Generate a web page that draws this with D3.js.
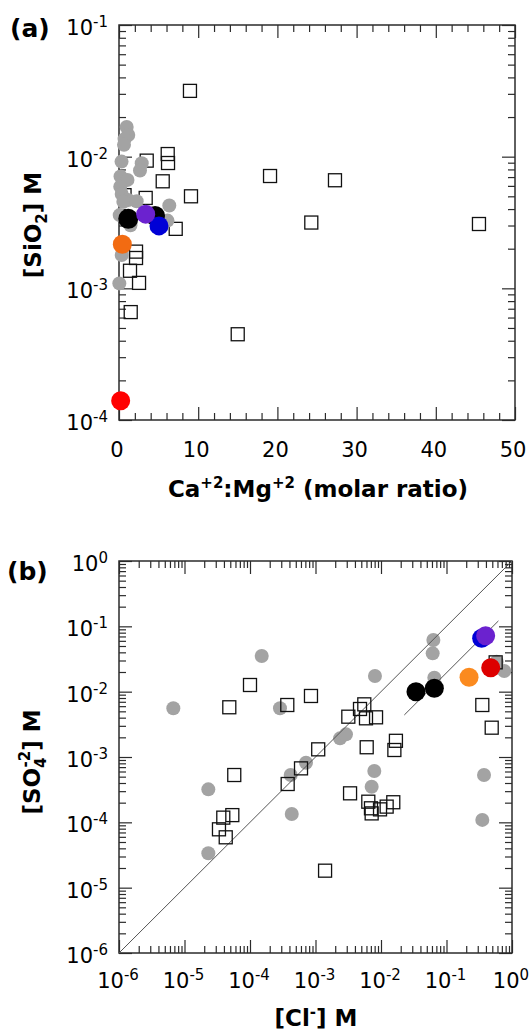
<!DOCTYPE html>
<html>
<head>
<meta charset="utf-8">
<script src="https://cdn.jsdelivr.net/npm/d3@7"></script>
<style>
  body { margin: 0; background: #fff; }
  svg { display: block; font-family: 'DejaVu Sans', sans-serif; }
</style>
</head>
<body>
<svg id="chart" width="530" height="1035"></svg>
<script>
// panel (a): [Ca:Mg molar ratio, SiO2 M]
const squaresA = [
  [8.96, 0.0316], [3.5, 0.00933], [6.15, 0.01047], [6.19, 0.00895], [5.52, 0.0065],
  [3.37, 0.00486], [9.09, 0.005], [19.07, 0.00713], [27.27, 0.00662], [24.28, 0.00316],
  [45.45, 0.00308], [7.16, 0.00283], [2.15, 0.0019], [2.15, 0.0017], [1.39, 0.00136],
  [2.53, 0.0011], [1.48, 0.00066], [14.99, 0.000448], [0.7, 0.0051]
]
const greyA = [
  [0.97, 0.0168], [1.17, 0.0146], [0.7, 0.0136], [0.63, 0.0123], [0.32, 0.00917],
  [2.87, 0.00891], [2.65, 0.00785], [0.19, 0.00708], [1.07, 0.00666], [0.16, 0.00592],
  [0.34, 0.00521], [1.17, 0.00469], [0.55, 0.00455], [2.23, 0.00458], [6.35, 0.00426],
  [0.09, 0.0036], [1.45, 0.00301], [6.12, 0.00327], [0.34, 0.00179], [0.04, 0.00109]
]
const blackA = [[1.17, 0.00337], [4.55, 0.00355]]
const blueA = [[5.05, 0.00298]]
const purpleA = [[3.37, 0.00366]]
const orangeA = [[0.42, 0.00216]]
const redA = [[0.21, 0.00014]]

// panel (b): [Cl M, SO4 M]
const greyB = [
  [6.75e-6, 5.56e-3], [1.51e-4, 0.0351], [2.87e-4, 5.56e-3], [8.09e-3, 0.0174], [2.37e-3, 1.93e-3],
  [2.92e-3, 2.22e-3], [7.16e-4, 8.18e-4], [4.18e-4, 5.3e-4], [7.9e-3, 6.1e-4], [7.2e-3, 3.5e-4],
  [4.34e-4, 1.34e-4], [0.063, 0.0618], [0.0615, 0.0386], [0.0652, 0.0164], [0.583, 0.0288],
  [0.762, 0.0207], [0.374, 5.3e-4], [0.352, 1.09e-4], [2.31e-5, 3.2e-4], [2.31e-5, 3.36e-5]
]
const squaresB = [
  [4.83e-5, 5.77e-3], [1e-4, 0.01265], [8.53e-4, 8.59e-3], [3.71e-4, 6.25e-3], [5.56e-3, 6.4e-3],
  [4.78e-3, 5.43e-3], [3.17e-3, 4.14e-3], [5.9e-3, 3.91e-3], [8.4e-3, 4.05e-3], [1.1e-3, 1.31e-3],
  [6.05e-3, 1.41e-3], [0.0169, 1.77e-3], [0.016, 1.28e-3], [6.01e-4, 6.7e-4], [3.76e-4, 3.86e-4],
  [3.37e-3, 2.78e-4], [6.4e-3, 2.07e-4], [7.03e-3, 1.64e-4], [7.2e-3, 1.37e-4], [9.66e-3, 1.58e-4],
  [0.0122, 1.74e-4], [0.0154, 2.03e-4], [1.4e-3, 1.82e-5], [0.563, 0.0281], [0.352, 6.25e-3],
  [0.49, 2.81e-3], [5.75e-5, 5.3e-4], [5.37e-5, 1.29e-4], [3.91e-5, 1.18e-4], [3.36e-5, 7.82e-5],
  [4.26e-5, 5.9e-5]
]
const blackB = [[0.0342, 0.01], [0.0652, 0.0113]]
const blueB = [[0.344, 0.0656]]
const purpleB = [[0.396, 0.0719]]
const orangeB = [[0.221, 0.0166]]
const redB = [[0.473, 0.0233]]

// reference lines in (b)
const oneToOne = [[1e-6, 1e-6], [1, 1]]
const lowerLine = [[0.0227, 0.0044], [0.62, 0.121]]

// tick labels
const ticksAx = [0, 10, 20, 30, 40, 50]
const expsAy = [-1, -2, -3, -4]
const expsB = [-6, -5, -4, -3, -2, -1, 0]

const svg = d3.select('#chart')
const ink = '#2b2b2b'

const xA = d3.scaleLinear().domain([0, 50]).range([119, 515])
const yA = d3.scaleLog().domain([1e-4, 1e-1]).range([420, 25])
const xB = d3.scaleLog().domain([1e-6, 1]).range([119, 512])
const yB = d3.scaleLog().domain([1e-6, 1]).range([953, 561])

function logMinor(lo, hi) {
  const out = []
  for (let e = lo; e < hi; e++) {
    for (let k = 2; k <= 9; k++) out.push(+(k + 'e' + e))
  }
  return out
}

function tickSet(x, y, xMaj, xMin, yMaj, yMin) {
  const [x0, x1] = x.range()
  const [y0, y1] = y.range()
  const g = svg.append('g')
  const parts = [
    [d3.axisBottom(x), xMaj, 13, `translate(0,${y0})`],
    [d3.axisBottom(x), xMin, 7, `translate(0,${y0})`],
    [d3.axisTop(x), xMaj, 13, `translate(0,${y1})`],
    [d3.axisTop(x), xMin, 7, `translate(0,${y1})`],
    [d3.axisLeft(y), yMaj, 13, `translate(${x0},0)`],
    [d3.axisLeft(y), yMin, 7, `translate(${x0},0)`],
    [d3.axisRight(y), yMaj, 13, `translate(${x1},0)`],
    [d3.axisRight(y), yMin, 7, `translate(${x1},0)`]
  ]
  parts.forEach(([axis, vals, size, tr]) => {
    const a = g.append('g')
      .attr('transform', tr)
      .call(axis.tickValues(vals).tickSize(-size).tickSizeOuter(0).tickFormat(''))
    a.select('.domain').remove()
    a.selectAll('text').remove()
    a.selectAll('line').attr('stroke', ink).attr('stroke-width', 1.2)
  })
  g.append('rect')
    .attr('x', x0).attr('y', y1)
    .attr('width', x1 - x0).attr('height', y0 - y1)
    .attr('fill', 'none').attr('stroke', ink).attr('stroke-width', 1.5)
}

function powLabel(sel, e) {
  sel.append('tspan').text('10')
  sel.append('tspan').attr('dy', -8).attr('font-size', 15).text(e)
}

function squares(data, x, y) {
  svg.append('g').selectAll('rect').data(data).enter().append('rect')
    .attr('x', (d) => x(d[0]) - 6.5)
    .attr('y', (d) => y(d[1]) - 6.5)
    .attr('width', 13).attr('height', 13)
    .attr('fill', 'none').attr('stroke', '#111').attr('stroke-width', 1.3)
}

function dots(data, x, y, r, color) {
  svg.append('g').selectAll('circle').data(data).enter().append('circle')
    .attr('cx', (d) => x(d[0]))
    .attr('cy', (d) => y(d[1]))
    .attr('r', r)
    .attr('fill', color)
}

// ---- panel (a)
tickSet(xA, yA, ticksAx, d3.range(0, 51, 2).filter((v) => v % 10 !== 0),
  expsAy.map((e) => Math.pow(10, e)), logMinor(-4, -1))

squares(squaresA, xA, yA)
dots(greyA, xA, yA, 7, '#a3a3a3')
dots(blackA, xA, yA, 10, '#000')
dots(blueA, xA, yA, 9.5, '#0000d6')
dots(purpleA, xA, yA, 9.5, '#6b22cf')
dots(orangeA, xA, yA, 9.5, '#f26b12')
dots(redA, xA, yA, 9.5, '#ff0000')

svg.append('g').selectAll('text').data(ticksAx).enter().append('text')
  .attr('x', (d) => xA(d) - 2)
  .attr('y', 457)
  .attr('text-anchor', 'middle')
  .attr('font-size', 21)
  .text((d) => d)

svg.append('g').selectAll('text').data(expsAy).enter().append('text')
  .attr('x', 108)
  .attr('y', (d) => yA(Math.pow(10, d)) + 10)
  .attr('text-anchor', 'end')
  .attr('font-size', 21)
  .each(function (d) { powLabel(d3.select(this), d) })

svg.append('text').attr('x', 10).attr('y', 37)
  .attr('font-size', 25).attr('font-weight', 'bold').text('(a)')

const titleAx = svg.append('text').attr('x', 318).attr('y', 497)
  .attr('text-anchor', 'middle').attr('font-size', 23).attr('font-weight', 'bold')
titleAx.append('tspan').text('Ca')
titleAx.append('tspan').attr('dy', -9).attr('font-size', 15).text('+2')
titleAx.append('tspan').attr('dy', 9).text(':Mg')
titleAx.append('tspan').attr('dy', -9).attr('font-size', 15).text('+2')
titleAx.append('tspan').attr('dy', 9).text(' (molar ratio)')

const titleAy = svg.append('text').attr('transform', 'translate(41,225) rotate(-90)')
  .attr('text-anchor', 'middle').attr('font-size', 23).attr('font-weight', 'bold')
titleAy.append('tspan').text('[SiO')
titleAy.append('tspan').attr('dy', 6).attr('font-size', 15).text('2')
titleAy.append('tspan').attr('dy', -6).text('] M')

// ---- panel (b)
const majB = expsB.map((e) => Math.pow(10, e))
tickSet(xB, yB, majB, logMinor(-6, 0), majB, logMinor(-6, 0))

const line = d3.line().x((d) => xB(d[0])).y((d) => yB(d[1]))

dots(greyB, xB, yB, 7, '#a3a3a3')
svg.append('path').attr('d', line(oneToOne))
  .attr('fill', 'none').attr('stroke', '#555').attr('stroke-width', 1)
svg.append('path').attr('d', line(lowerLine))
  .attr('fill', 'none').attr('stroke', '#555').attr('stroke-width', 1)
squares(squaresB, xB, yB)
dots(blackB, xB, yB, 9.5, '#000')
dots(blueB, xB, yB, 9.5, '#0000d6')
dots(purpleB, xB, yB, 9.5, '#6b22cf')
dots(orangeB, xB, yB, 9.5, '#fb8a1f')
dots(redB, xB, yB, 9.5, '#dd0000')

svg.append('g').selectAll('text').data(expsB).enter().append('text')
  .attr('x', (d) => xB(Math.pow(10, d)) - 1)
  .attr('y', 988)
  .attr('text-anchor', 'middle')
  .attr('font-size', 21)
  .each(function (d) { powLabel(d3.select(this), d) })

svg.append('g').selectAll('text').data(expsB).enter().append('text')
  .attr('x', 108)
  .attr('y', (d) => yB(Math.pow(10, d)) + 10)
  .attr('text-anchor', 'end')
  .attr('font-size', 21)
  .each(function (d) { powLabel(d3.select(this), d) })

svg.append('text').attr('x', 7).attr('y', 580)
  .attr('font-size', 25).attr('font-weight', 'bold').text('(b)')

const titleBx = svg.append('text').attr('x', 316).attr('y', 1026)
  .attr('text-anchor', 'middle').attr('font-size', 23).attr('font-weight', 'bold')
titleBx.append('tspan').text('[Cl')
titleBx.append('tspan').attr('dy', -9).attr('font-size', 15).text('-')
titleBx.append('tspan').attr('dy', 9).text('] M')

const titleBy = svg.append('text').attr('transform', 'translate(40,762) rotate(-90)')
  .attr('text-anchor', 'middle').attr('font-size', 23).attr('font-weight', 'bold')
titleBy.append('tspan').text('[SO')
titleBy.append('tspan').attr('dy', 6).attr('font-size', 15).text('4')
titleBy.append('tspan').attr('dx', -10).attr('dy', -16).attr('font-size', 15).text('-2')
titleBy.append('tspan').attr('dy', 10).text('] M')
</script>
</body>
</html>
